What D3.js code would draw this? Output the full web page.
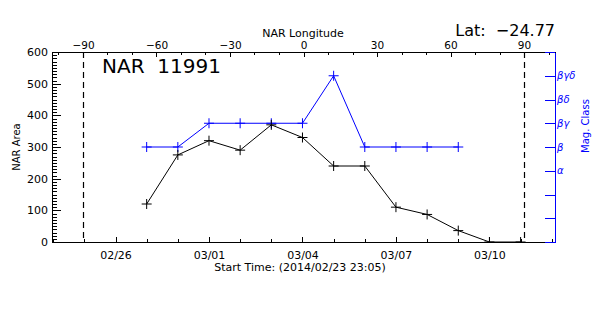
<html>
<head>
<script src="https://d3js.org/d3.v7.min.js"></script>
<style>
body { margin: 0; background: #fff; }
text { font-family: 'DejaVu Sans', sans-serif; }
</style>
</head>
<body>
<div id="chart"></div>
<script>

// data
var areaDates = ["2014-02-27", "2014-02-28", "2014-03-01", "2014-03-02", "2014-03-03",
                 "2014-03-04", "2014-03-05", "2014-03-06", "2014-03-07", "2014-03-08",
                 "2014-03-09", "2014-03-10", "2014-03-11"];
var areaValues = [120, 275, 320, 290, 370, 330, 240, 240, 110, 87, 36, 0, 0];

var magDates = ["2014-02-27", "2014-02-28", "2014-03-01", "2014-03-02", "2014-03-03",
                "2014-03-04", "2014-03-05", "2014-03-06", "2014-03-07", "2014-03-08",
                "2014-03-09"];
var magValues = [4, 4, 5, 5, 5, 5, 7, 4, 4, 4, 4];
var magLabels = ["", "", "", "\u03b1", "\u03b2", "\u03b2\u03b3", "\u03b2\u03b4", "\u03b2\u03b3\u03b4", ""];

var areaTicks = [0, 100, 200, 300, 400, 500, 600];
var lonTicks = [-90, -60, -30, 0, 30, 60, 90];
var limbLon = [-90, 90];

var startTime = "2014-02-23T23:05:00Z";
var endTime = "2014-03-12T02:30:00Z";

var W = 600, H = 315;
// plot box (note: "top" is taken by window.top)
var pL = 52, pR = 555, pT = 52, pB = 242;

var svg = d3.select("#chart").append("svg").attr("width", W).attr("height", H);

var parse = function(s) { return new Date(s.length == 10 ? s + "T00:00:00Z" : s); };

var x = d3.scaleUtc().domain([parse(startTime), parse(endTime)]).range([pL, pR]);
var lon = d3.scaleLinear().domain([-102.65, 102.65]).range([pL, pR]);
var y = d3.scaleLinear().domain([0, 600]).range([pB, pT]);
var yMag = d3.scaleLinear().domain([0, 8]).range([pB, pT]);

svg.append("defs").append("clipPath").attr("id", "plotclip")
  .append("rect").attr("x", pL).attr("y", pT)
  .attr("width", pR - pL).attr("height", pB - pT);

// limb lines
svg.selectAll(".limb").data(limbLon).enter().append("line")
  .attr("class", "limb")
  .attr("x1", function(d) { return Math.round(lon(d)) + 0.5; })
  .attr("x2", function(d) { return Math.round(lon(d)) + 0.5; })
  .attr("y1", pT).attr("y2", pB)
  .style("stroke", "#000").style("stroke-width", 1.2)
  .style("stroke-dasharray", "6,4");

function plus(g, pts, color) {
  var s = 5;
  g.selectAll(null).data(pts).enter().append("path")
    .attr("d", function(d) {
      return "M" + (d[0] - s) + "," + d[1] + "H" + (d[0] + s) +
             "M" + d[0] + "," + (d[1] - s) + "V" + (d[1] + s);
    })
    .style("stroke", color).style("stroke-width", 1).style("fill", "none");
}

var plot = svg.append("g").attr("clip-path", "url(#plotclip)");

var areaPts = areaDates.map(function(d, i) { return [x(parse(d)), y(areaValues[i])]; });
var magPts = magDates.map(function(d, i) { return [x(parse(d)), yMag(magValues[i])]; });

plot.append("path").datum(magPts).attr("d", d3.line())
  .style("fill", "none").style("stroke", "#0000ff").style("stroke-width", 1);
plus(plot, magPts, "#0000ff");

plot.append("path").datum(areaPts).attr("d", d3.line())
  .style("fill", "none").style("stroke", "#000").style("stroke-width", 1);
plus(plot, areaPts, "#000");

// axes
function styleAxis(g, color, size) {
  g.selectAll("path,line").style("stroke", color).attr("shape-rendering", "crispEdges");
  g.selectAll("text").style("fill", color).style("font-size", size + "px");
}

// left: area
var gl = svg.append("g").attr("transform", "translate(" + pL + ",0)");
gl.call(d3.axisLeft(y).tickValues(d3.range(0, 601, 10)).tickSize(-5).tickSizeOuter(0).tickFormat(""));
gl.append("g").call(d3.axisLeft(y).tickValues(areaTicks).tickSize(-9).tickSizeOuter(0).tickPadding(4)
  .tickFormat(d3.format("d")));
styleAxis(gl, "#000", 11);

// bottom: time
var gb = svg.append("g").attr("transform", "translate(0," + pB + ")");
gb.call(d3.axisBottom(x).ticks(d3.utcDay.every(1)).tickSize(-3).tickSizeOuter(0).tickFormat(""));
var majorDays = d3.utcDay.range(parse("2014-02-26"), parse(endTime), 3);
gb.append("g").call(d3.axisBottom(x).tickValues(majorDays).tickSize(-5).tickSizeOuter(0).tickPadding(9)
  .tickFormat(d3.utcFormat("%m/%d")));
styleAxis(gb, "#000", 11);

// top: longitude
var gt = svg.append("g").attr("transform", "translate(0," + pT + ")");
gt.call(d3.axisTop(lon).tickValues(d3.range(-100, 101, 10)).tickSize(-3).tickSizeOuter(0).tickFormat(""));
gt.append("g").call(d3.axisTop(lon).tickValues(lonTicks).tickSize(-5).tickSizeOuter(0).tickPadding(3)
  .tickFormat(function(d) { return d < 0 ? "\u2212" + Math.abs(d) : d; }));
styleAxis(gt, "#000", 10.5);

// right: magnetic class
var gr = svg.append("g").attr("transform", "translate(" + pR + ",0)");
gr.call(d3.axisRight(yMag).tickValues(d3.range(0, 9)).tickSize(-10).tickSizeOuter(0).tickPadding(2)
  .tickFormat(function(d) { return magLabels[d]; }));
styleAxis(gr, "#0000ff", 10);
gr.selectAll("text").style("font-style", "italic");

// titles
svg.append("text").attr("x", 303).attr("y", 37).attr("text-anchor", "middle")
  .style("font-size", "11px").text("NAR Longitude");
svg.append("text").attr("x", 300).attr("y", 271).attr("text-anchor", "middle")
  .style("font-size", "11px").text("Start Time: (2014/02/23 23:05)");
svg.append("text").attr("transform", "translate(20,147) rotate(-90)").attr("text-anchor", "middle")
  .style("font-size", "10px").text("NAR Area");
svg.append("text").attr("transform", "translate(589,126) rotate(-90)").attr("text-anchor", "middle")
  .style("font-size", "10px").style("fill", "#0000ff").text("Mag. Class");
svg.append("text").attr("x", 102).attr("y", 73).style("font-size", "20px")
  .style("white-space", "pre").text("NAR  11991");
svg.append("text").attr("x", 555).attr("y", 36).attr("text-anchor", "end").style("font-size", "16px")
  .style("white-space", "pre").text("Lat:  \u221224.77");

</script>
</body>
</html>
